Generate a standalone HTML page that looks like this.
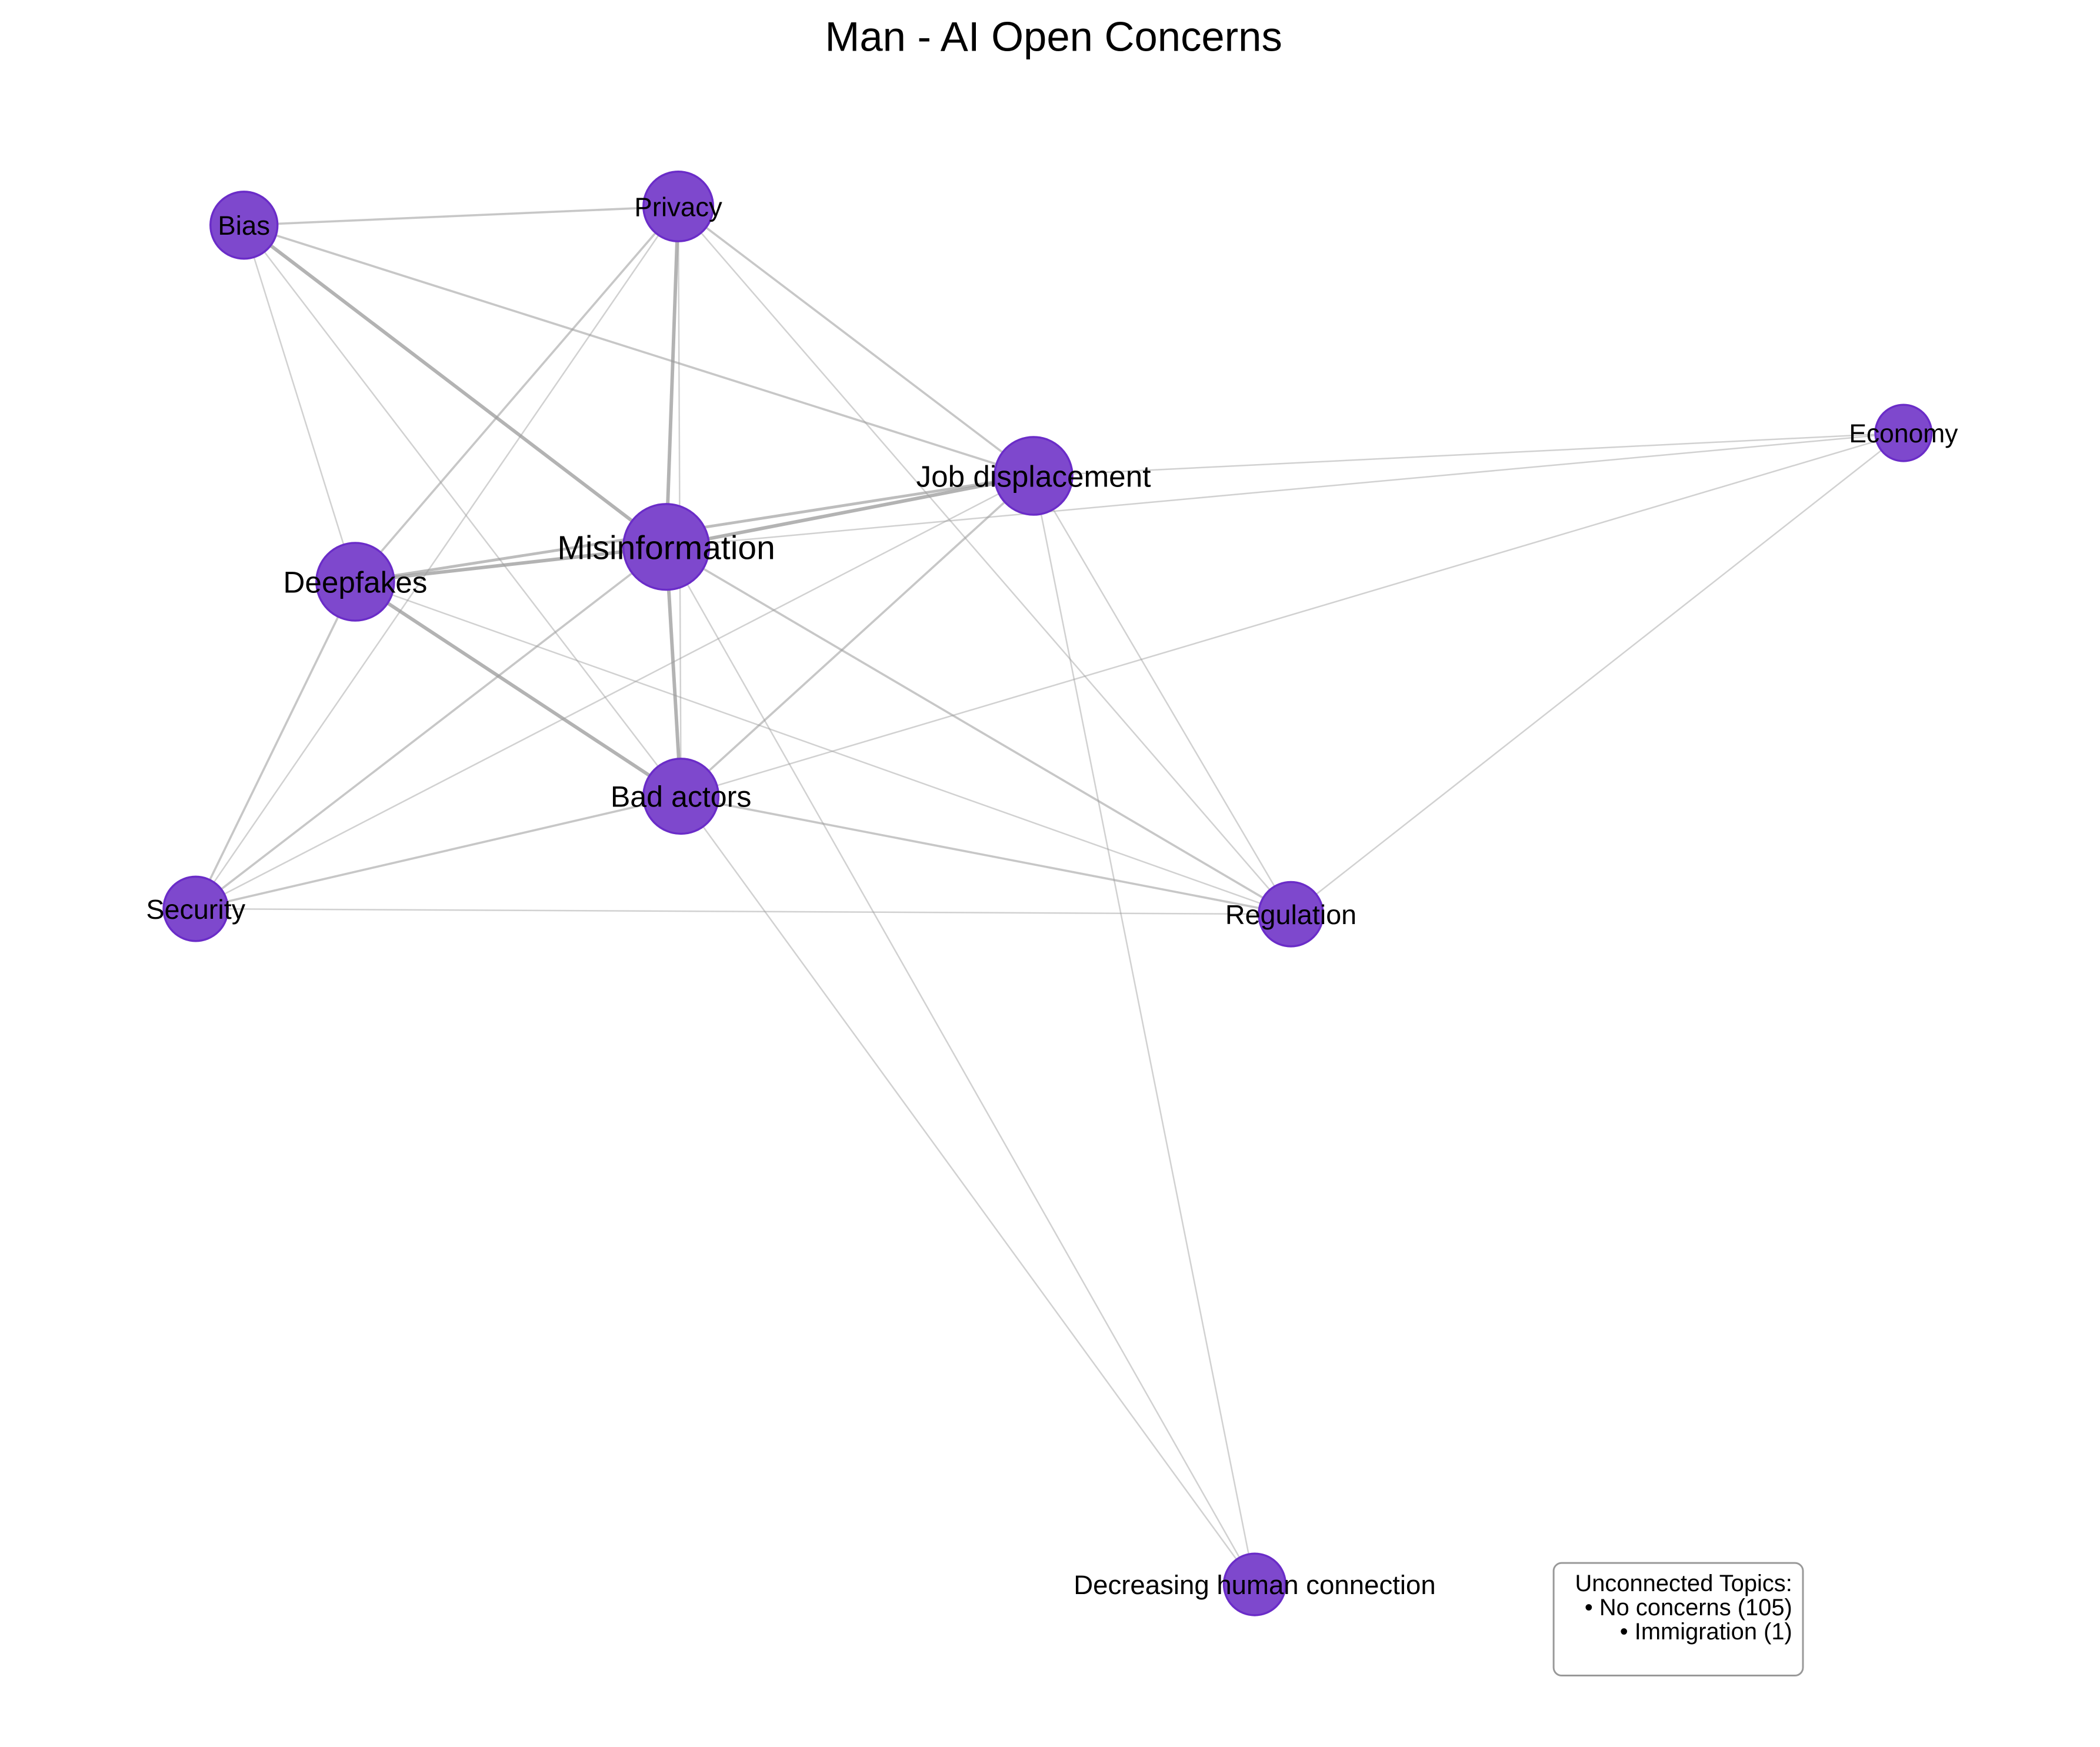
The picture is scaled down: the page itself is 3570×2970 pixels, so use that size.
<!DOCTYPE html>
<html><head><meta charset="utf-8"><title>Man - AI Open Concerns</title>
<style>html,body{margin:0;padding:0;background:#fff;}svg{display:block;font-family:"Liberation Sans","DejaVu Sans",sans-serif;}</style>
</head><body>
<svg id="chart" width="3570" height="2970" viewBox="0 0 1566.6 1303.3" xmlns="http://www.w3.org/2000/svg">
<rect width="1566.6" height="1303.3" fill="#fff"/>
<text x="786" y="38" font-size="31" text-anchor="middle" fill="#000">Man - AI Open Concerns</text>
<g id="edges"></g>
<g id="nodes"></g>
<g>
<rect x="1159" y="1166" width="186" height="84" rx="6" fill="#fff" stroke="#999" stroke-width="1.3"/>
<text x="1337" y="1187" font-size="17.5" text-anchor="end">Unconnected Topics:</text>
<text x="1337" y="1205" font-size="17.5" text-anchor="end">• No concerns (105)</text>
<text x="1337" y="1223" font-size="17.5" text-anchor="end">• Immigration (1)</text>
</g>
</svg>
<script>
const nodeNames = ["Bias","Privacy","Economy","Job displacement","Misinformation","Deepfakes","Bad actors","Security","Regulation","Decreasing human connection"];
const nodeX = [182,506,1420,771,497,265,508,146,963,936];
const nodeY = [168,154,323,355,408,434,594,678,682,1182];
const nodeSize = [25,26,21,29,32,29,28,24,24,23];
const edgeFrom = [0,0,0,0,0,1,1,1,1,1,1,3,3,3,3,3,3,3,4,2,2,4,4,4,4,4,5,5,5,6,6,6,7];
const edgeTo   = [1,3,4,5,6,3,4,6,5,7,8,2,4,5,6,7,8,9,2,6,8,5,6,8,7,9,6,7,8,7,8,9,8];
const edgeWeight=[2,2,4,1,1,2,4,1,2,1,1,1,4,3,2,1,1,1,1,1,1,4,4,2,2,1,4,2,1,2,2,1,1];
const labelSize = [20,20,19.5,22.5,25,22.5,22,20.5,20.5,20];
const ns="http://www.w3.org/2000/svg";
const eg=document.getElementById('edges'), ng=document.getElementById('nodes');
for(let i=0;i<edgeFrom.length;i++){
  const a=edgeFrom[i], b=edgeTo[i], w=edgeWeight[i];
  const l=document.createElementNS(ns,'line');
  
  
  l.setAttribute('x1',nodeX[a]);l.setAttribute('y1',nodeY[a]);
  l.setAttribute('x2',nodeX[b]);l.setAttribute('y2',nodeY[b]);
  l.setAttribute('stroke','#999');
  l.setAttribute('stroke-opacity',0.35+0.1*w);
  l.setAttribute('stroke-width',0.6+0.5*w);
  eg.appendChild(l);
}
for(let i=0;i<nodeNames.length;i++){
  const c=document.createElementNS(ns,'circle');
  
  
  c.setAttribute('cx',nodeX[i]);c.setAttribute('cy',nodeY[i]);c.setAttribute('r',nodeSize[i]);
  c.setAttribute('fill','#7e48cd');c.setAttribute('stroke','#6a2cc8');c.setAttribute('stroke-width','1.5');
  ng.appendChild(c);
}
for(let i=0;i<nodeNames.length;i++){
  const t=document.createElementNS(ns,'text');
  
  
  t.setAttribute('x',nodeX[i]);t.setAttribute('y',nodeY[i]+labelSize[i]*0.36);
  t.setAttribute('text-anchor','middle');
  t.setAttribute('font-size',labelSize[i]);
  t.textContent=nodeNames[i];
  ng.appendChild(t);
}
</script>
</body></html>
